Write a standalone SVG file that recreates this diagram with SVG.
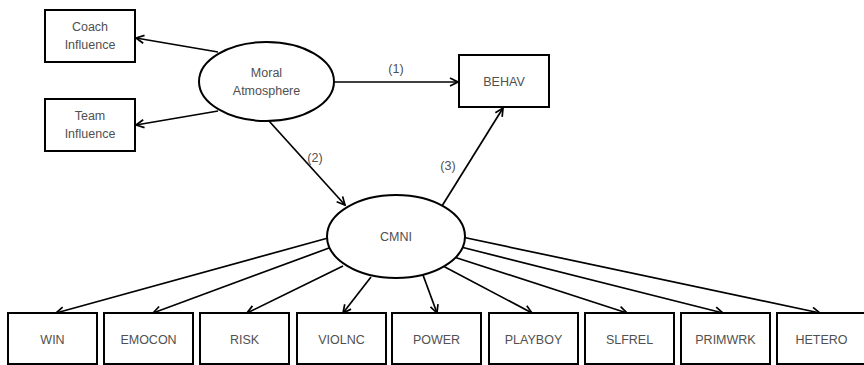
<svg xmlns="http://www.w3.org/2000/svg" width="864" height="365" viewBox="0 0 864 365">
<defs>
<style>
.box{fill:#fff;stroke:#000;stroke-width:2}
.ell{fill:#fff;stroke:#000;stroke-width:2}
.t{font-family:"Liberation Sans",Arial,sans-serif;font-size:12.5px;fill:#505050;text-anchor:middle}
.c{stroke:#000;stroke-width:1.7;fill:none;marker-end:url(#ah)}
</style>
<marker id="ah" viewBox="0 0 10 10" refX="9" refY="5" markerWidth="10" markerHeight="10" markerUnits="userSpaceOnUse" orient="auto">
<path d="M1,1 L9,5 L1,9" fill="none" stroke="#000" stroke-width="1.7"/>
</marker>
</defs>
<rect width="864" height="365" fill="#fff"/>
<g id="connectors">
<line class="c" x1="218" y1="52" x2="136" y2="38"/>
<line class="c" x1="218" y1="111" x2="136" y2="125"/>
<line class="c" x1="334" y1="82" x2="458" y2="82"/>
<line class="c" x1="269" y1="121" x2="345" y2="205"/>
<line class="c" x1="442" y1="206" x2="503" y2="108"/>
<line class="c" x1="328" y1="238" x2="56" y2="313"/>
<line class="c" x1="329" y1="248" x2="153" y2="313"/>
<line class="c" x1="343" y1="266" x2="247" y2="313"/>
<line class="c" x1="371" y1="277" x2="343" y2="313"/>
<line class="c" x1="423" y1="275" x2="437" y2="313"/>
<line class="c" x1="443" y1="266" x2="532" y2="313"/>
<line class="c" x1="454" y1="257" x2="627" y2="313"/>
<line class="c" x1="461" y1="247" x2="723" y2="313"/>
<line class="c" x1="462" y1="237" x2="820" y2="313"/>
<text class="t" x="396" y="73">(1)</text>
<text class="t" x="315" y="162">(2)</text>
<text class="t" x="448" y="170">(3)</text>
</g>
<g id="coach"><rect class="box" x="45" y="10" width="90" height="52"/><text class="t" x="90" y="31">Coach</text><text class="t" x="90" y="49">Influence</text></g>
<g id="team"><rect class="box" x="45" y="99" width="90" height="52"/><text class="t" x="90" y="120">Team</text><text class="t" x="90" y="138">Influence</text></g>
<g id="moral"><ellipse class="ell" cx="266.5" cy="81.5" rx="67.5" ry="39.5"/><text class="t" x="266.5" y="77">Moral</text><text class="t" x="266.5" y="95">Atmosphere</text></g>
<g id="behav"><rect class="box" x="459" y="55" width="90" height="52"/><text class="t" x="504" y="85.5">BEHAV</text></g>
<g id="cmni"><ellipse class="ell" cx="396" cy="236.5" rx="69" ry="41.5"/><text class="t" x="396" y="241">CMNI</text></g>
<g id="win"><rect class="box" x="8" y="313" width="89" height="51"/><text class="t" x="52.5" y="344">WIN</text></g>
<g id="emocon"><rect class="box" x="104" y="313" width="89" height="51"/><text class="t" x="148.5" y="344">EMOCON</text></g>
<g id="risk"><rect class="box" x="200" y="313" width="89" height="51"/><text class="t" x="244.5" y="344">RISK</text></g>
<g id="violnc"><rect class="box" x="297" y="313" width="89" height="51"/><text class="t" x="341.5" y="344">VIOLNC</text></g>
<g id="power"><rect class="box" x="392" y="313" width="89" height="51"/><text class="t" x="436.5" y="344">POWER</text></g>
<g id="playboy"><rect class="box" x="489" y="313" width="89" height="51"/><text class="t" x="533.5" y="344">PLAYBOY</text></g>
<g id="slfrel"><rect class="box" x="585" y="313" width="89" height="51"/><text class="t" x="629.5" y="344">SLFREL</text></g>
<g id="primwrk"><rect class="box" x="681" y="313" width="89" height="51"/><text class="t" x="725.5" y="344">PRIMWRK</text></g>
<g id="hetero"><rect class="box" x="777" y="313" width="89" height="51"/><text class="t" x="821.5" y="344">HETERO</text></g>
</svg>
